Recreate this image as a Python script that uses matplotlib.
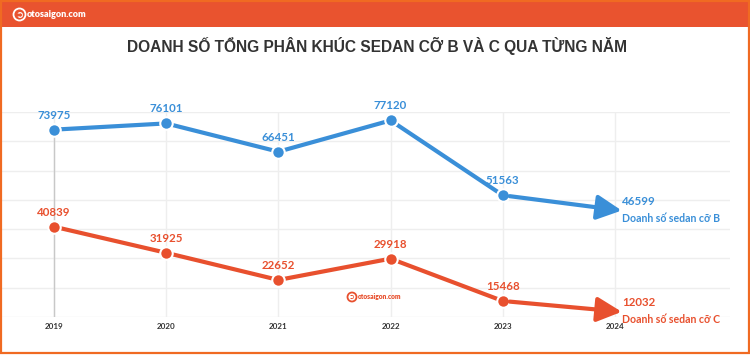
import matplotlib
matplotlib.use("Agg")
import matplotlib.pyplot as plt
from matplotlib.patches import Rectangle, Ellipse

years = ["2019", "2020", "2021", "2022", "2023", "2024"]
sedan_b = [73975, 76101, 66451, 77120, 51563, 46599]
sedan_c = [40839, 31925, 22652, 29918, 15468, 12032]
name_b = "Doanh số sedan cỡ B"
name_c = "Doanh số sedan cỡ C"
title = "DOANH SỐ TỔNG PHÂN KHÚC SEDAN CỠ B VÀ C QUA TỪNG NĂM"
brand = "otosaigon.com"

BLUE = "#3A8FD8"
RED = "#E8502E"
HEADER = "#E9532F"
FRAME = "#F06A22"

W, H = 750, 358
fig = plt.figure(figsize=(W / 100, H / 100), dpi=100)
fig.patch.set_facecolor("white")

# header bar and frame
fig.patches.append(Rectangle((0, 1 - 27 / H), 1, 27 / H, transform=fig.transFigure,
                             facecolor=HEADER, edgecolor="none", zorder=0))
fig.patches.append(Rectangle((0.5 / W, 5 / H), 1 - 2 / W, 1 - 5.5 / H, transform=fig.transFigure,
                             facecolor="none", edgecolor=FRAME, lw=1.6, zorder=5))


def logo(cx, cy, r, color, fs, fsize_text):
    fig.patches.append(Ellipse((cx / W, 1 - cy / H), 2 * r / W, 2 * r / H,
                               transform=fig.transFigure, facecolor="none",
                               edgecolor=color, lw=1.3, zorder=6))
    fig.text(cx / W, 1 - cy / H, "➲", color=color, fontsize=fs, ha="center", va="center",
             family=["DejaVu Sans"], fontweight="bold")
    fig.text((cx + r + 1.5) / W, 1 - cy / H, brand, color=color, fontsize=fsize_text,
             ha="left", va="center", family=["Lato"], fontweight="heavy")


logo(19.5, 14.5, 6, "white", 7, 6.5)

fig.text(377 / W, 1 - 46 / H, title, ha="center", va="center", fontsize=11.2,
         fontweight="bold", family=["Liberation Sans"], color="#333333")

ax = fig.add_axes([2 / W, (H - 317) / H, 728 / W, (317 - 112) / H])
x = list(range(len(years)))
ax.set_xlim(-0.463, 6.025)
ax.set_ylim(10000, 80000)
ax.set_yticks([10000, 20000, 30000, 40000, 50000, 60000, 70000, 80000])
ax.set_yticklabels([])
ax.grid(True, axis="y", color="#EEEEEE", lw=1)
ax.grid(True, axis="x", color="#EEEEEE", lw=1)
ax.set_axisbelow(True)
for s in ax.spines.values():
    s.set_visible(False)
ax.tick_params(axis="y", length=0)
ax.set_xticks(x, years)
ax.tick_params(axis="x", length=0, pad=4, labelsize=5.8, labelcolor="#333333")
for lab in ax.get_xticklabels():
    lab.set_fontfamily("Lato")
    lab.set_fontweight("bold")

ax.vlines(x[0], 10000, sedan_b[0], color="#C8C8C8", lw=1, zorder=1)

for vals, col, name in [(sedan_b, BLUE, name_b), (sedan_c, RED, name_c)]:
    ax.plot(x[:-1], vals[:-1], color=col, lw=3, solid_capstyle="round", zorder=3,
            marker="o", ms=9, mec="white", mew=1.5)
    ax.annotate("", xy=(x[-1] + 0.06, vals[-1] - 250), xytext=(x[-2], vals[-2]),
                arrowprops=dict(arrowstyle="-|>,head_length=1.5,head_width=0.75",
                                color=col, lw=3, shrinkA=5, shrinkB=0), zorder=3)
    for xi, v in zip(x[:-1], vals[:-1]):
        ax.annotate(f"{v}", (xi, v), xytext=(0, 6.5), textcoords="offset points",
                    ha="center", va="bottom", fontsize=8.3, color=col,
                    family=["Lato"], fontweight="bold", zorder=4)
    ax.annotate(f"{vals[-1]}", (x[-1], vals[-1]), xytext=(5, 6), textcoords="offset points",
                ha="left", va="center", fontsize=8.3, color=col,
                family=["Lato"], fontweight="bold", zorder=4)
    ax.annotate(name, (x[-1], vals[-1]), xytext=(5, -6), textcoords="offset points",
                ha="left", va="center", fontsize=7.6, color=col,
                family=["Lato"], fontweight="bold", zorder=4)

# watermark
logo(352, 297, 4.5, RED, 5, 4.8)

fig.savefig("out.png", dpi=100)
